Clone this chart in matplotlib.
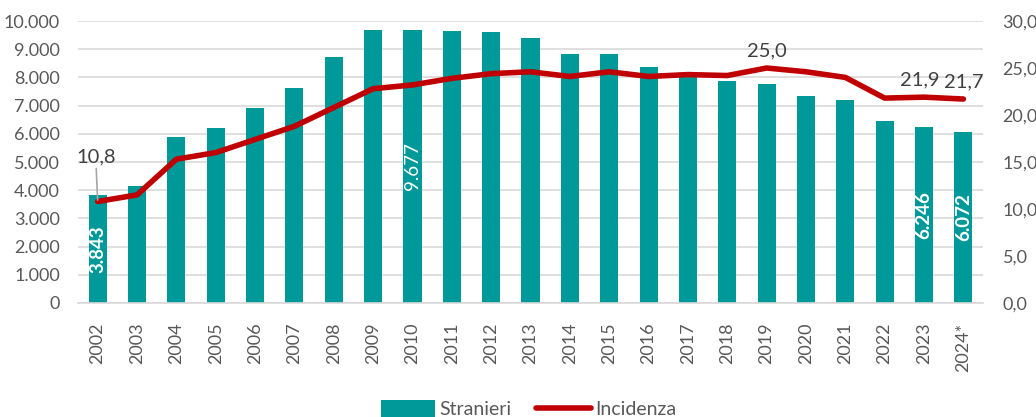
import numpy as np
import matplotlib.pyplot as plt
import matplotlib.ticker as mticker

plt.rcParams['font.family'] = ['Lato', 'DejaVu Sans']

years = ['2002', '2003', '2004', '2005', '2006', '2007', '2008', '2009', '2010', '2011', '2012',
         '2013', '2014', '2015', '2016', '2017', '2018', '2019', '2020', '2021', '2022', '2023', '2024*']
stranieri = [3843, 4150, 5870, 6200, 6910, 7630, 8720, 9680, 9677, 9660, 9610,
             9400, 8840, 8840, 8380, 8040, 7880, 7750, 7330, 7200, 6470, 6246, 6072]
incidenza = [10.8, 11.5, 15.3, 16.0, 17.4, 18.8, 20.8, 22.8, 23.2, 23.9, 24.4,
             24.6, 24.1, 24.6, 24.1, 24.3, 24.2, 25.0, 24.6, 24.0, 21.8, 21.9, 21.7]
bar_labels = {0: '3.843', 8: '9.677', 21: '6.246', 22: '6.072'}
line_labels = {0: '10,8', 17: '25,0', 21: '21,9', 22: '21,7'}

teal = '#009999'
red = '#C00000'
grey = '#595959'

x = np.arange(len(years))
fig = plt.figure(figsize=(10.36, 4.17), dpi=100)
ax = fig.add_axes([0.0753, 0.2734, 0.8736, 0.6762])
ax2 = ax.twinx()

ax.set_axisbelow(True)
ax.yaxis.grid(True, color='#d9d9d9', linewidth=1.2)
ax.bar(x, stranieri, width=0.46, color=teal, label='Stranieri', zorder=2)
ax2.plot(x, incidenza, color=red, linewidth=4, solid_capstyle='round', label='Incidenza', zorder=3)

for i, txt in bar_labels.items():
    ax.text(x[i], stranieri[i] / 2, txt, rotation=90, ha='center', va='center',
            color='white', fontsize=13.5, fontweight='bold' if i != 8 else 'normal', zorder=4)

for i, txt in line_labels.items():
    if i == 0:
        ax2.annotate(txt, xy=(x[i], incidenza[i]), xytext=(x[i] - 0.05, incidenza[i] + 3.8),
                     ha='center', va='bottom', fontsize=14.5, color='#404040',
                     arrowprops=dict(arrowstyle='-', color='#a6a6a6', lw=1.2, shrinkA=0, shrinkB=1))
    elif i == 21:
        ax2.text(x[i] - 0.1, incidenza[i] + 0.9, txt, ha='center', va='bottom', fontsize=14.5, color='#404040')
    else:
        ax2.text(x[i], incidenza[i] + 0.9, txt, ha='center', va='bottom', fontsize=14.5, color='#404040')

ax.set_xlim(-0.5, len(years) - 0.5)
ax.set_ylim(0, 10000)
ax2.set_ylim(0, 30)
ax.set_yticks(np.arange(0, 10001, 1000))
ax2.set_yticks(np.arange(0, 30.1, 5))
ax.yaxis.set_major_formatter(mticker.FuncFormatter(lambda v, p: f'{int(v):,}'.replace(',', '.')))
ax2.yaxis.set_major_formatter(mticker.FuncFormatter(lambda v, p: f'{v:.1f}'.replace('.', ',')))
ax.set_xticks(x)
ax.set_xticklabels(years, rotation=90)

for a in (ax, ax2):
    for s in a.spines.values():
        s.set_visible(False)
    a.tick_params(length=0, colors=grey)
ax.tick_params(axis='y', labelsize=13, pad=13)
ax2.tick_params(axis='y', labelsize=13, pad=14)
ax.tick_params(axis='x', labelsize=13, pad=14)
ax.spines['bottom'].set_visible(True)
ax.spines['bottom'].set_color('#d9d9d9')
ax.spines['bottom'].set_linewidth(1.2)

h1, l1 = ax.get_legend_handles_labels()
h2, l2 = ax2.get_legend_handles_labels()
fig.legend(h1 + h2, l1 + l2, loc='lower center', bbox_to_anchor=(0.51, -0.045), ncol=2,
           frameon=False, fontsize=14, handlelength=2.8, handleheight=0.9, columnspacing=1.3,
           handletextpad=0.2, labelcolor=grey)

fig.savefig('out.png', dpi=100)
